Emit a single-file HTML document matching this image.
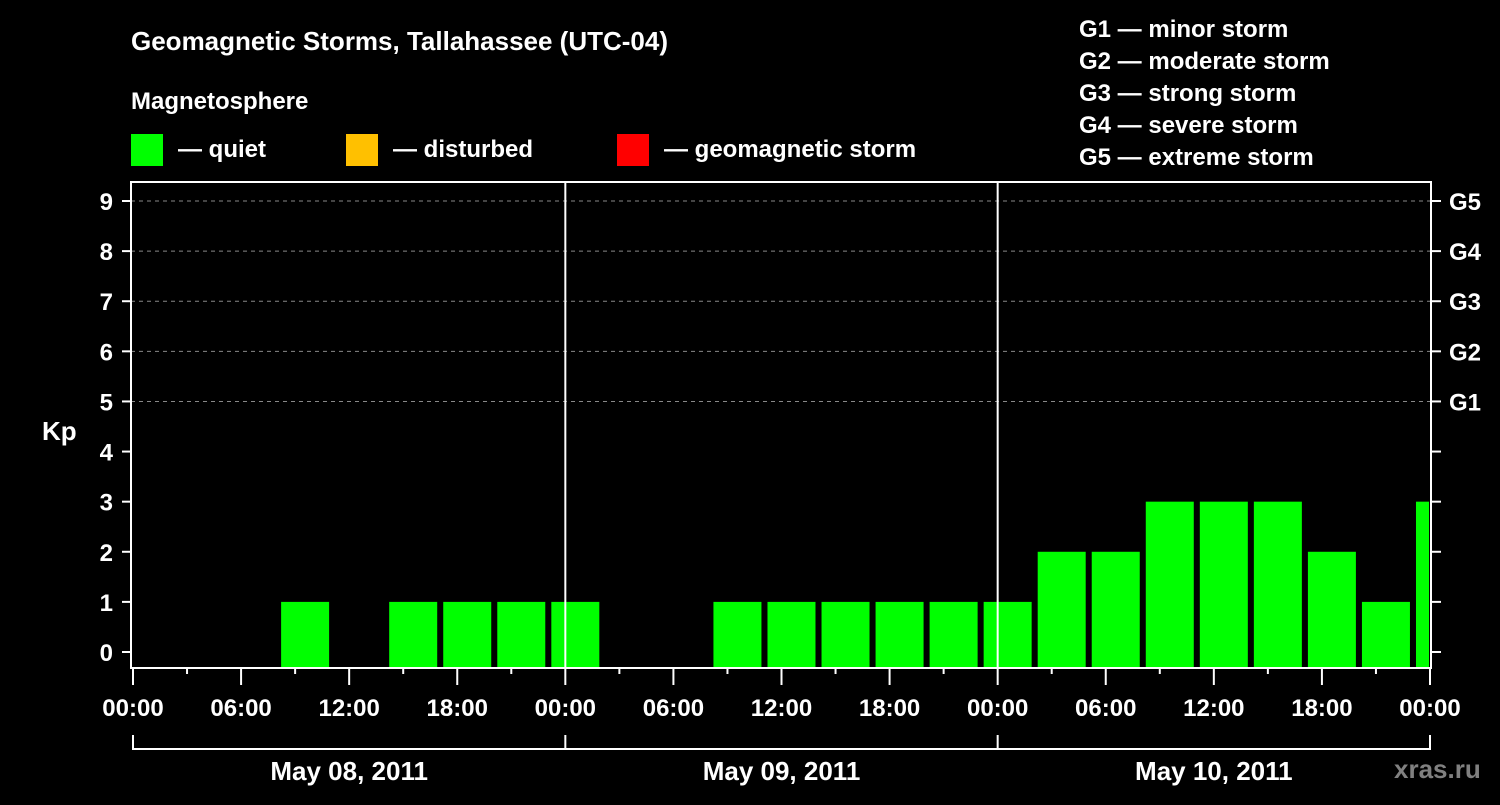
<!DOCTYPE html>
<html><head><meta charset="utf-8"><style>
body{margin:0;background:#000;width:1500px;height:800px;overflow:hidden}
svg text{font-family:"Liberation Sans",sans-serif;font-weight:bold;fill:#fff}
</style></head><body>
<svg id="c" width="1500" height="800" xmlns="http://www.w3.org/2000/svg">
<rect width="1500" height="800" fill="#000"/>
<text x="131" y="50" font-size="26">Geomagnetic Storms, Tallahassee (UTC-04)</text>
<text x="131" y="109" font-size="24">Magnetosphere</text>
<g><rect x="131" y="134" width="32" height="32" fill="#00ff00"/><text x="178" y="157" font-size="24">— quiet</text></g>
<g><rect x="346" y="134" width="32" height="32" fill="#ffc000"/><text x="393" y="157" font-size="24">— disturbed</text></g>
<g><rect x="617" y="134" width="32" height="32" fill="#ff0000"/><text x="664" y="157" font-size="24">— geomagnetic storm</text></g>
<g font-size="24">
<text x="1079" y="37">G1 — minor storm</text>
<text x="1079" y="69">G2 — moderate storm</text>
<text x="1079" y="101">G3 — strong storm</text>
<text x="1079" y="133">G4 — severe storm</text>
<text x="1079" y="165">G5 — extreme storm</text>
</g>
<text x="42" y="440" font-size="26">Kp</text>
<text x="1394" y="778" font-size="26" fill="#808080" style="fill:#808080">xras.ru</text>
<g id="grid"></g><g id="bars"></g><g id="axes"></g>
</svg>
<script>
const kpValues=[0,0,0,1,0,1,1,1,1, 0,0,1,1,1,1,1,1, 2,2,3,3,3,2,1,3];
const binStartHours=[-1,2,5,8,11,14,17,20,23, 26,29,32,35,38,41,44,47, 50,53,56,59,62,65,68,71];
const yTicks=[0,1,2,3,4,5,6,7,8,9];
const gLabels=["G1","G2","G3","G4","G5"];
const gLevels=[5,6,7,8,9];
const hourLabels=["00:00","06:00","12:00","18:00"];
const dayLabels=["May 08, 2011","May 09, 2011","May 10, 2011"];
const NS="http://www.w3.org/2000/svg";
const X0=133,X1=1430,L=131,R=1431,T=182,B=668;
const xs=h=>X0+(X1-X0)*h/72;
const ys=v=>652-(652-201)*v/9;
function mk(p,t,a){const e=document.createElementNS(NS,t);for(const k in a)e.setAttribute(k,a[k]);p.appendChild(e);return e;}
const grid=document.getElementById('grid'),bars=document.getElementById('bars'),ax=document.getElementById('axes');
gLevels.forEach((v,i)=>{const l=mk(grid,'line',{x1:L,x2:R,y1:ys(v),y2:ys(v),stroke:'#888','stroke-dasharray':'4,4','stroke-width':1});


const t=mk(ax,'text',{x:1449,y:ys(v)+9,'font-size':24});t.textContent=gLabels[i];

});
kpValues.forEach((v,i)=>{if(v<=0)return;const x=xs(binStartHours[i])+4;const w=Math.min(48,R-2-x);
const r=mk(bars,'rect',{x:Math.max(x,L+1),y:ys(v),width:w,height:B-ys(v),fill:'#00ff00'});

});
[1,2].forEach(d=>{const l=mk(ax,'line',{x1:xs(d*24),x2:xs(d*24),y1:T,y2:B,stroke:'#fff','stroke-width':2});

});
const f=mk(ax,'rect',{x:L,y:T,width:R-L,height:B-T,fill:'none',stroke:'#fff','stroke-width':2});


yTicks.forEach(v=>{const y=ys(v);mk(ax,'line',{x1:122,x2:L,y1:y,y2:y,stroke:'#fff','stroke-width':2});
mk(ax,'line',{x1:R,x2:1441,y1:y,y2:y,stroke:'#fff','stroke-width':2});
const t=mk(ax,'text',{x:113,y:y+9,'font-size':24,'text-anchor':'end'});t.textContent=v;

});
for(let h=0;h<=72;h+=3){const x=xs(h);mk(ax,'line',{x1:x,x2:x,y1:B,y2:h%6?674:685,stroke:'#fff','stroke-width':2});
if(h%6===0){const t=mk(ax,'text',{x:x,y:716,'font-size':24,'text-anchor':'middle'});t.textContent=hourLabels[(h/6)%4];

}}
mk(ax,'path',{d:`M${xs(0)},735V749H${xs(72)}V735M${xs(24)},735V749M${xs(48)},735V749`,fill:'none',stroke:'#fff','stroke-width':2});
dayLabels.forEach((s,i)=>{const t=mk(ax,'text',{x:xs(i*24+12),y:780,'font-size':26,'text-anchor':'middle'});t.textContent=s;

});
</script>
</body></html>
